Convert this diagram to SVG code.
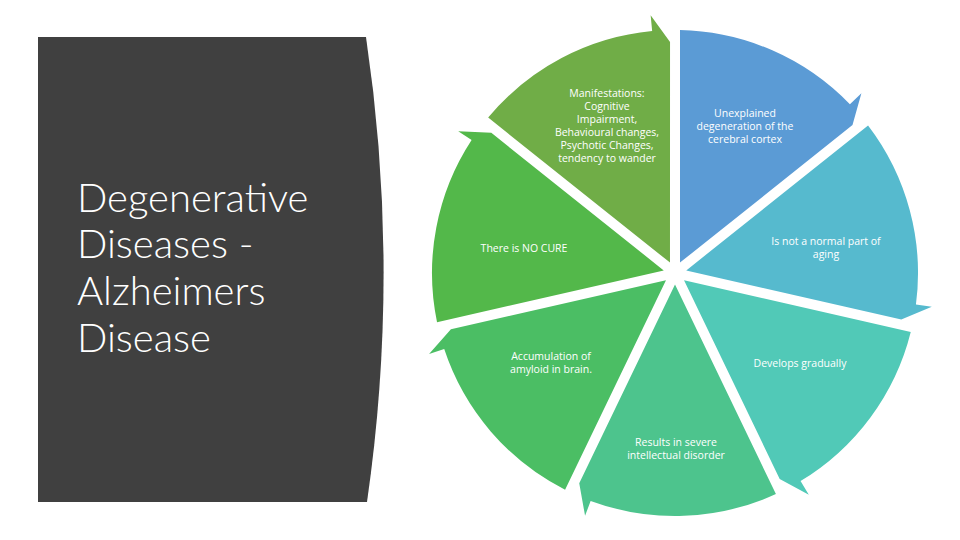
<svg xmlns="http://www.w3.org/2000/svg" xmlns:xlink="http://www.w3.org/1999/xlink" width="960" height="540" viewBox="0 0 960 540">
  <style>
    .title { font-family: "Segoe UI Light", Lato, "Open Sans", "Liberation Sans", sans-serif; font-weight: 300; font-size: 40px; fill: #ffffff; }
    .lbl { font-family: "Segoe UI", "Open Sans", "Liberation Sans", sans-serif; font-size: 10.5px; fill: #ffffff; text-anchor: middle; }
  </style>
  <defs>
    <path id="seg" d="M 680.0 262.6 L 680.0 30.05 A 243 243 0 0 1 849.9 104.3 L 861.4 93.2 L 852.5 125.1 Z"/>
  </defs>
  <rect width="960" height="540" fill="#ffffff"/>
  <g id="title-panel">
    <path d="M 38 37 L 366 37 A 1598 1598 0 0 1 367 502 L 38 502 Z" fill="#404040"/>
    <text class="title" x="77" y="212">Degenerative</text>
    <text class="title" x="77" y="258">Diseases -</text>
    <text class="title" x="77" y="305">Alzheimers</text>
    <text class="title" x="77" y="352">Disease</text>
  </g>
  <g id="connectors"/>
  <g id="node-unexplained">
    <use xlink:href="#seg" href="#seg" fill="#5B9BD5"/>
    <text class="lbl" x="745" y="117">Unexplained</text>
    <text class="lbl" x="745" y="130">degeneration of the</text>
    <text class="lbl" x="745" y="143">cerebral cortex</text>
  </g>
  <g id="node-not-normal">
    <use xlink:href="#seg" href="#seg" fill="#56BACE" transform="rotate(51.4286 675 273)"/>
    <text class="lbl" x="826" y="245">Is not a normal part of</text>
    <text class="lbl" x="826" y="258">aging</text>
  </g>
  <g id="node-gradually">
    <use xlink:href="#seg" href="#seg" fill="#51C9B7" transform="rotate(102.8571 675 273)"/>
    <text class="lbl" x="800" y="367">Develops gradually</text>
  </g>
  <g id="node-results">
    <use xlink:href="#seg" href="#seg" fill="#4DC48D" transform="rotate(154.2857 675 273)"/>
    <text class="lbl" x="676" y="446">Results in severe</text>
    <text class="lbl" x="676" y="459">intellectual disorder</text>
  </g>
  <g id="node-amyloid">
    <use xlink:href="#seg" href="#seg" fill="#4BBE64" transform="rotate(205.7143 675 273)"/>
    <text class="lbl" x="551" y="360">Accumulation of</text>
    <text class="lbl" x="551" y="373">amyloid in brain.</text>
  </g>
  <g id="node-no-cure">
    <use xlink:href="#seg" href="#seg" fill="#53B84A" transform="rotate(257.1429 675 273)"/>
    <text class="lbl" x="524" y="252">There is NO CURE</text>
  </g>
  <g id="node-manifestations">
    <use xlink:href="#seg" href="#seg" fill="#70AD47" transform="rotate(308.5714 675 273)"/>
    <text class="lbl" x="607" y="97">Manifestations:</text>
    <text class="lbl" x="607" y="110">Cognitive</text>
    <text class="lbl" x="607" y="123">Impairment,</text>
    <text class="lbl" x="607" y="136">Behavioural changes,</text>
    <text class="lbl" x="607" y="149">Psychotic Changes,</text>
    <text class="lbl" x="607" y="162">tendency to wander</text>
  </g>
</svg>
